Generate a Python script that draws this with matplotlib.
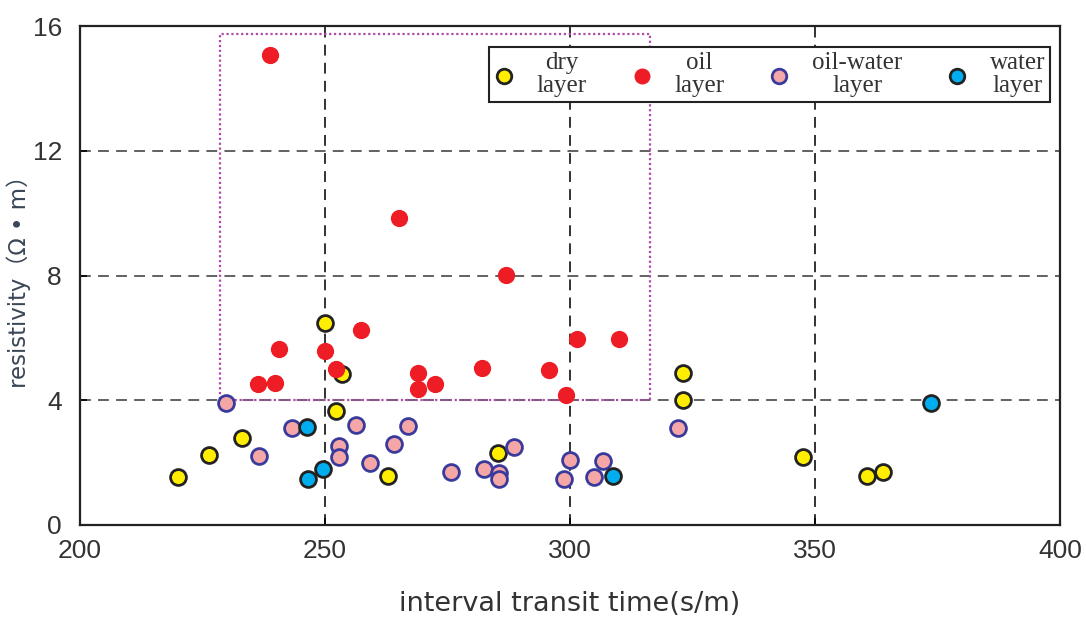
# scatter of resistivity vs interval transit time
import matplotlib.pyplot as plt
from matplotlib.patches import Rectangle

dry_t = [219.9, 226.4, 233.1, 250.0, 253.5, 252.2, 262.8, 285.4, 323.0, 323.0, 347.6, 360.6, 363.8]
dry_r = [1.54, 2.24, 2.79, 6.47, 4.84, 3.65, 1.57, 2.31, 4.87, 4.0, 2.18, 1.57, 1.70]

oil_t = [238.8, 265.0, 287.0, 240.6, 257.3, 250.0, 252.2, 236.4, 239.8, 268.9, 268.9,
         272.4, 282.1, 295.7, 301.4, 310.0, 299.2]
oil_r = [15.06, 9.84, 8.01, 5.64, 6.25, 5.58, 5.0, 4.52, 4.55, 4.87, 4.36,
         4.52, 5.03, 4.97, 5.96, 5.96, 4.17]

ow_t = [229.7, 236.6, 243.3, 252.8, 252.8, 256.3, 259.1, 264.0, 266.9, 275.8, 282.5,
        285.6, 285.6, 288.6, 300.0, 298.8, 304.9, 306.7, 322.0]
ow_r = [3.91, 2.21, 3.11, 2.53, 2.18, 3.2, 1.99, 2.6, 3.17, 1.70, 1.79,
        1.67, 1.47, 2.5, 2.08, 1.47, 1.54, 2.05, 3.11]

water_t = [246.3, 249.6, 246.5, 308.7, 373.6]
water_r = [3.14, 1.79, 1.47, 1.57, 3.91]

fig = plt.figure(figsize=(10.86, 6.2), dpi=100)
ax = fig.add_axes([80/1086, 1 - 525/620, 980/1086, 499/620])

for y in [4, 8, 12]:
    ax.axhline(y, color='#555555', lw=1.3, ls=(0, (6, 4)), zorder=1)
for x in [250, 300, 350]:
    ax.axvline(x, color='#222222', lw=1.3, ls=(0, (6, 4)), zorder=1)

ax.add_patch(Rectangle((228.5, 4.0), 316.3 - 228.5, 15.75 - 4.0, fill=False,
                       ec='#b04aa8', lw=1.6, ls=(0, (1, 1.2)), zorder=2))

s = 130
ax.scatter(dry_t, dry_r, s=s, c='#ffee00', edgecolors='#222222', linewidths=2, zorder=3, label='dry\nlayer')
ax.scatter(oil_t, oil_r, s=s, c='#ee1c25', edgecolors='#ee1c25', linewidths=1, zorder=4, label='oil\nlayer')
ax.scatter(ow_t, ow_r, s=s, c='#f4a7a6', edgecolors='#3a3a9c', linewidths=2, zorder=3, label='oil-water\nlayer')
ax.scatter(water_t, water_r, s=s, c='#00aeef', edgecolors='#222222', linewidths=2, zorder=3, label='water\nlayer')

ax.set_xlim(200, 400)
ax.set_ylim(0, 16)
ax.set_xticks([200, 250, 300, 350, 400])
ax.set_yticks([0, 4, 8, 12, 16])
ax.tick_params(axis='y', direction='in', labelsize=19, labelcolor='#333333', length=5, width=1.2, pad=13)
ax.tick_params(axis='x', direction='in', labelsize=19, labelcolor='#333333', length=5, width=1.2, pad=10)
for lab in ax.get_xticklabels() + ax.get_yticklabels():
    lab.set_family('Liberation Sans')
for sp in ax.spines.values():
    sp.set_linewidth(1.6)
    sp.set_color('#222222')

ax.set_xlabel('interval transit time(s/m)', fontsize=19.5, color='#333333', labelpad=20)
ax.set_ylabel('resistivity（Ω • m）', fontsize=16.5, color='#3a4656', labelpad=5,
              family=['DejaVu Sans', 'Noto Sans CJK SC'])
ax.yaxis.set_label_coords(-0.05, 0.5)

leg = ax.legend(loc='upper right', bbox_to_anchor=(0.99, 0.958), ncol=4, fancybox=False,
                edgecolor='#222222', framealpha=1, borderpad=0.2, handletextpad=0.9,
                columnspacing=1.8, handlelength=0.8, borderaxespad=0,
                prop={'family': 'Liberation Serif', 'size': 18})
leg.get_frame().set_linewidth(1.5)
for h in leg.legend_handles:
    h.set_sizes([110])
for t in leg.get_texts():
    t.set_multialignment('center')
    t.set_color('#333333')
    t.set_linespacing(1.05)

plt.savefig('out.png', dpi=100)
